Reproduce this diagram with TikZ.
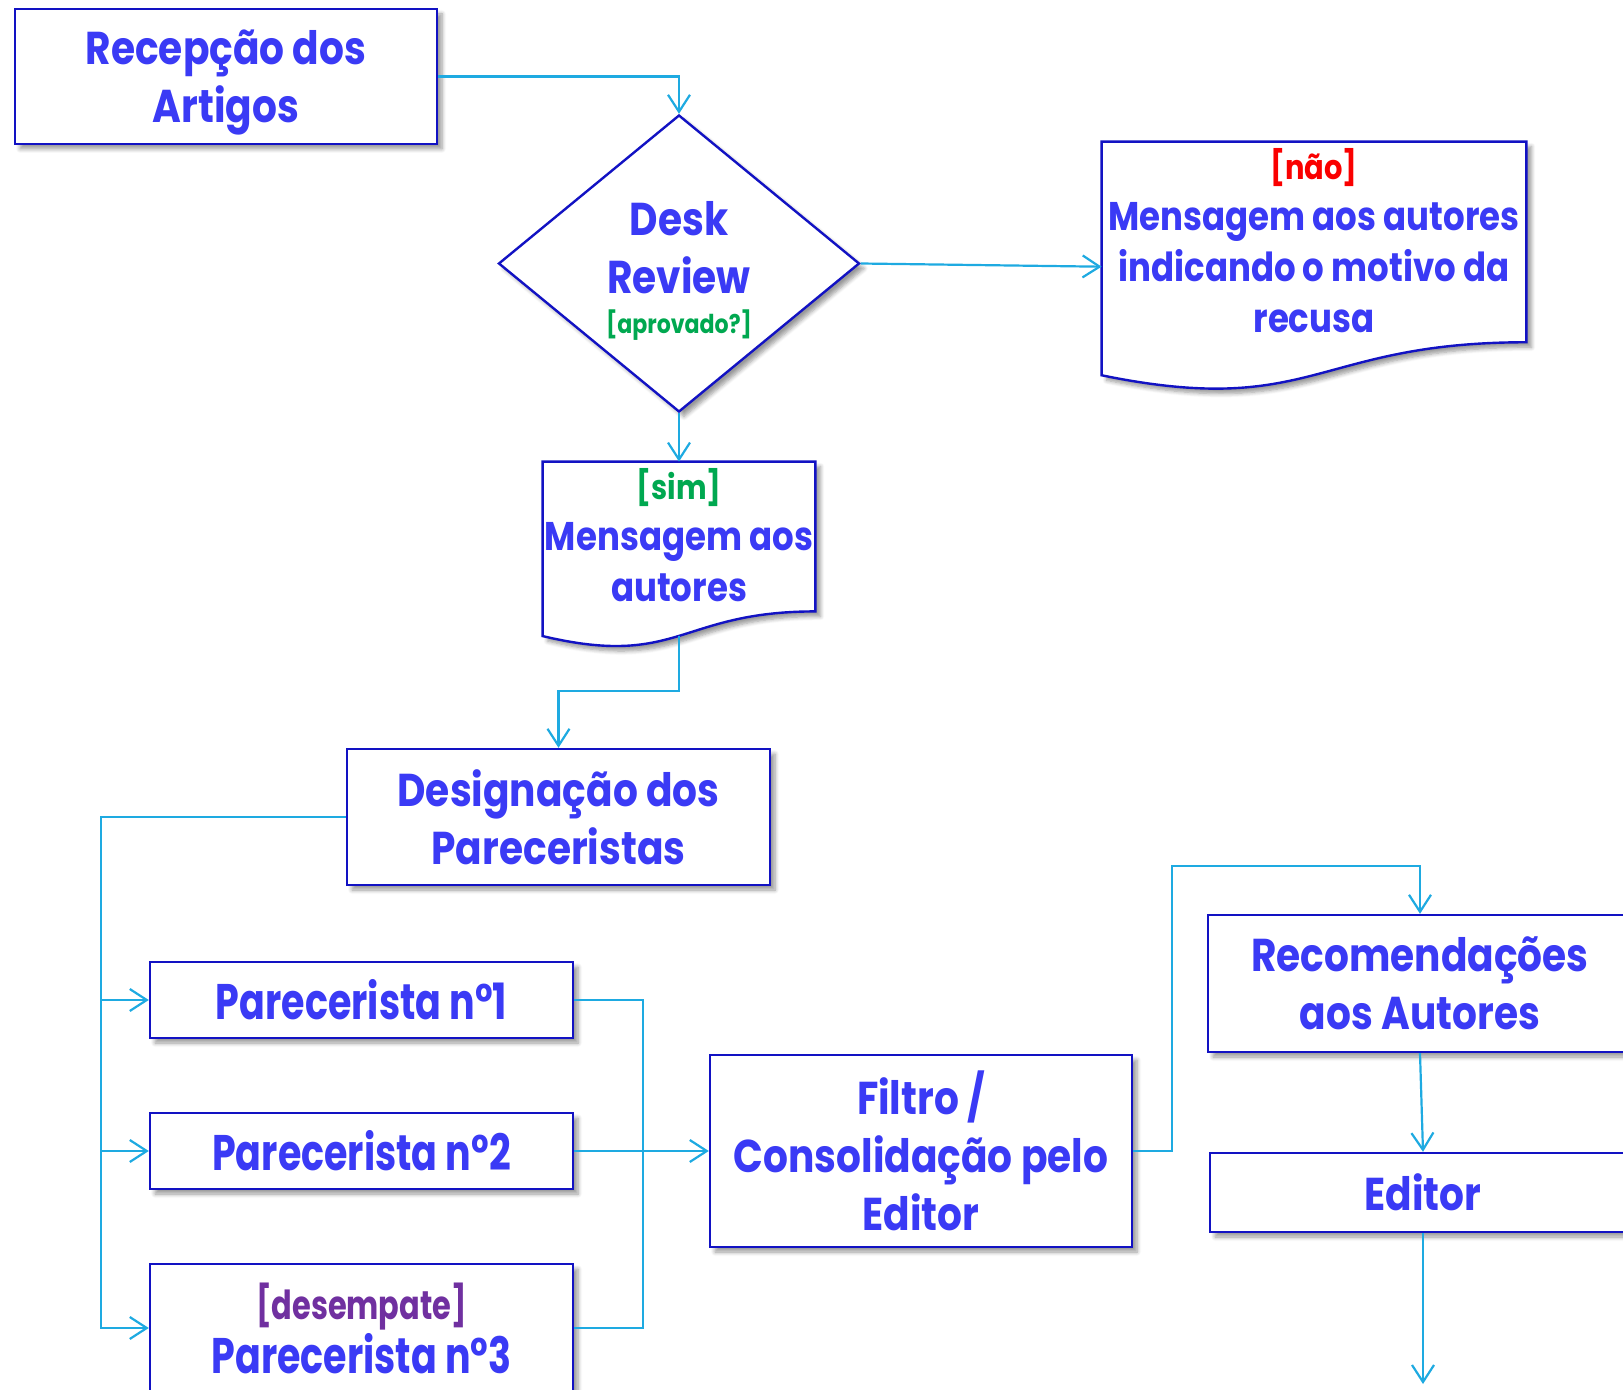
\documentclass[tikz,border=0pt]{standalone}
\usepackage{fontspec}
\setmainfont{Poppins}[FakeStretch=0.85]
\newfontfamily\condfont{Poppins}[FakeStretch=0.76]
\usepackage{tikz}
\usetikzlibrary{shapes.geometric,arrows.meta,shadows.blur,calc}

\definecolor{boxblue}{RGB}{18,18,195}
\definecolor{txtblue}{RGB}{58,58,245}
\definecolor{linecyan}{RGB}{30,170,225}
\definecolor{okgreen}{RGB}{0,168,80}
\definecolor{nored}{RGB}{250,0,0}
\definecolor{tiepurple}{RGB}{112,48,160}

\newcommand{\docframe}[1]{%
  \path[frame] (#1.north west) -- (#1.north east) -- ($(#1.north east)!0.802!(#1.south east)$)
    .. controls ($(#1.north)!0.802!(#1.south)$) and ($(#1.north)!1.1075!(#1.south)$) ..
    ($(#1.north west)!0.934!(#1.south west)$) -- cycle;}

\begin{document}
\begin{tikzpicture}[x=0.5pt, y=-0.5pt,
  frame/.style={draw=boxblue, line width=1.2pt, fill=white,
    blur shadow={shadow xshift=2.5pt, shadow yshift=-2.5pt, shadow blur radius=2pt,
      shadow blur steps=6, shadow opacity=40}},
  box/.style={frame, inner sep=0pt, align=center, text=txtblue,
    font=\bfseries\fontsize{23}{29}\selectfont},
  pbox/.style={box, minimum width=211.5pt, minimum height=38pt,
    font=\condfont\bfseries\fontsize{25}{27}\selectfont},
  decision/.style={frame, shape=diamond, shape aspect=1.2155, inner sep=0pt,
    minimum width=180.5pt, minimum height=148.5pt},
  docarea/.style={inner sep=0pt},
  doctext/.style={inner sep=0pt, align=center, text=txtblue,
    font=\bfseries\fontsize{20}{25.5}\selectfont},
  conn/.style={draw=linecyan, line width=1.1pt},
  flow/.style={conn, -{Straight Barb[length=8.5pt, width=11pt]}}]
\useasboundingbox (0,0) rectangle (1623,1390);

\node[box, minimum width=211pt, minimum height=67.5pt] (rec) at (226,76.5) {Recepção dos\\\smash{Artigos}};
\node[decision] (desk) at (679,263.5) {};
\node[doctext, font=\bfseries\fontsize{23}{29}\selectfont] (desktxt) at ([yshift=-3.5pt]desk.center) {Desk\\Review\\[-9pt]{\fontsize{13}{15}\selectfont\color{okgreen}[aprovado?]}};

\node[docarea, minimum width=212pt, minimum height=124.7pt] (nao) at (1314,266.7) {};
\docframe{nao}
\node[doctext] (naotxt) at ([yshift=13pt]nao.center) {{\fontsize{17}{25.5}\selectfont\color{nored}[não]}\\Mensagem aos autores\\indicando o motivo da\\recusa};

\node[docarea, minimum width=136pt, minimum height=93pt] (sim) at (679,555) {};
\docframe{sim}
\node[doctext] (simtxt) at ([yshift=10pt]sim.center) {{\fontsize{17}{25}\selectfont\color{okgreen}[sim]}\\Mensagem aos\\autores};

\node[box, minimum width=211.5pt, minimum height=68pt] (desig) at (558.5,817) {Designação dos\\Pareceristas};
\node[pbox] (p1) at (361.5,1000) {Parecerista n°1};
\node[pbox] (p2) at (361.5,1151) {Parecerista n°2};
\node[pbox, minimum height=64pt] (p3) at (361.5,1328) {{\fontsize{20}{27}\selectfont\color{tiepurple}[desempate]}\\Parecerista n°3};
\node[box, minimum width=211pt, minimum height=96pt] (filtro) at (921,1151) {Filtro /\\Consolidação pelo\\Editor};
\node[box, minimum width=212pt, minimum height=68.5pt] (reco) at (1420,983.5) {Recomendações\\aos Autores};
\node[box, minimum width=213pt, minimum height=39.5pt] (editor) at (1423,1192.5) {Editor};
\coordinate (lbus) at (101,1328);
\coordinate (fim) at (1423,1384);

\draw[flow] (rec.east) -| (desk.north);
\draw[flow] (desk.east) -- (nao.west);
\draw[flow] (desk.south) -- (sim.north);
\draw[flow] ($(sim.north)!0.933!(sim.south)$) -- ++(0,55) -| (desig.north);
\draw[flow] (desig.west) -| (lbus) -- (p3.west);
\draw[flow] (lbus |- p1.west) -- (p1.west);
\draw[flow] (lbus |- p2.west) -- (p2.west);
\draw[conn] (p1.east) -| ++(69,328) -- (p3.east);
\draw[flow] (p2.east) -- (filtro.west);
\draw[flow] (filtro.east) -- ++(39,0) |- ($(reco.north)+(0,-48)$) -- (reco.north);
\draw[flow] (reco.south) -- (editor.north);
\draw[flow] (editor.south) -- (fim);
\end{tikzpicture}
\end{document}
